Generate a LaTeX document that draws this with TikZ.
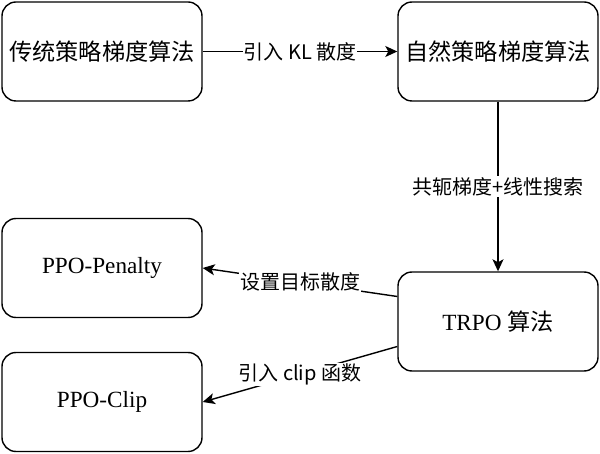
\documentclass[tikz,border=0pt]{standalone}
\usepackage{fontspec}
\setmainfont{Liberation Serif}
\newfontfamily\cjk{Noto Sans CJK SC}
\usetikzlibrary{arrows.meta}

\begin{document}
\begin{tikzpicture}[x=1pt,y=-1pt,
  algobox/.style={draw,line width=1.4pt,rounded corners=14pt,
    minimum width=200pt,minimum height=99pt,inner sep=0pt,
    font=\fontsize{23.2}{28}\selectfont},
  flow/.style={line width=1.4pt,-{Stealth[length=12pt,width=11pt,inset=3pt]}},
  steplabel/.style={fill=white,inner sep=1pt,
    font=\cjk\fontsize{20}{24}\selectfont}]
  \useasboundingbox (0,0) rectangle (600,454);
  \node[algobox] (trad) at (102,51.5) {\cjk 传统策略梯度算法};
  \node[algobox] (nat) at (498,51.5) {\cjk 自然策略梯度算法};
  \node[algobox] (trpo) at (498,321.5) {TRPO {\cjk 算法}};
  \node[algobox] (pen) at (102,268) {PPO-Penalty};
  \node[algobox] (clip) at (102,402) {PPO-Clip};
  \draw[flow] (trad) -- node[steplabel] {引入 KL 散度} (nat);
  \draw[flow] (nat) -- node[steplabel] {共轭梯度+线性搜索} (trpo);
  \draw[flow] ([yshift=25pt]trpo.west) -- node[steplabel] {设置目标散度} (pen.east);
  \draw[flow] ([yshift=-25pt]trpo.west) -- node[steplabel] {引入 clip 函数} (clip.east);
\end{tikzpicture}
\end{document}
